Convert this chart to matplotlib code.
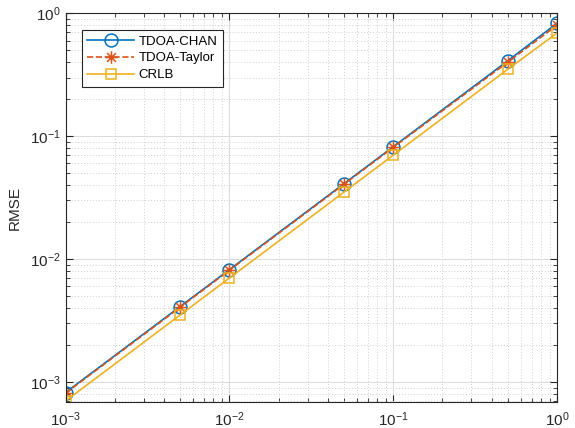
import matplotlib
matplotlib.use("Agg")
import matplotlib.pyplot as plt
from matplotlib.path import Path
from matplotlib.ticker import LogLocator, NullFormatter
import numpy as np

plt.rcParams['font.family'] = ['Liberation Sans', 'DejaVu Sans']

sigma = [0.001, 0.005, 0.01, 0.05, 0.1, 0.5, 1.0]
rmse_chan = [8.2e-4, 4.1e-3, 8.2e-3, 4.1e-2, 8.2e-2, 0.41, 0.83]
rmse_taylor = [8.1e-4, 4.05e-3, 8.1e-3, 4.05e-2, 8.1e-2, 0.40, 0.80]
rmse_crlb = [7.0e-4, 3.5e-3, 7.0e-3, 3.5e-2, 7.0e-2, 0.35, 0.69]
labels = ['TDOA-CHAN', 'TDOA-Taylor', 'CRLB']

# MATLAB-like 8-arm asterisk marker
d = np.sqrt(0.5)
verts = [(-1, 0), (1, 0), (0, -1), (0, 1), (-d, -d), (d, d), (-d, d), (d, -d)]
codes = [Path.MOVETO, Path.LINETO] * 4
asterisk = Path(verts, codes)

fig = plt.figure(figsize=(5.75, 4.28), dpi=100)
ax = fig.add_axes([65.5/575, 26/428, 491.5/575, 388.7/428])

ax.loglog(sigma, rmse_chan, '-', marker='o', color='#0072BD', lw=1.2, ms=9.3,
          mfc='none', mew=1.1, label=labels[0])
ax.loglog(sigma, rmse_taylor, '--', marker=asterisk, color='#D95319', lw=1.2,
          ms=9, mew=1.1, label=labels[1])
ax.loglog(sigma, rmse_crlb, '-', marker='s', color='#EDB120', lw=1.2, ms=7.5,
          mfc='none', mew=1.1, label=labels[2])

ax.set_xlim(1e-3, 1)
ax.set_ylim(10**(-3.163), 1)
ax.set_ylabel('RMSE', fontsize=11, color='#262626', labelpad=6)

ax.xaxis.set_major_locator(LogLocator(base=10, numticks=10))
ax.yaxis.set_major_locator(LogLocator(base=10, numticks=10))
ax.xaxis.set_minor_locator(LogLocator(base=10, subs=range(2, 10), numticks=20))
ax.yaxis.set_minor_locator(LogLocator(base=10, subs=range(2, 10), numticks=20))
ax.xaxis.set_minor_formatter(NullFormatter())
ax.yaxis.set_minor_formatter(NullFormatter())

ax.grid(True, which='major', color='#dcdcdc', lw=0.8, ls='-')
ax.grid(True, which='minor', color='#d0d0d0', lw=0.7, ls=(0, (1, 2)))
ax.set_axisbelow(True)

ax.tick_params(which='both', direction='in', top=True, right=True,
               colors='#262626', labelsize=11)
ax.tick_params(which='major', length=5)
ax.tick_params(which='minor', length=3)
ax.tick_params(axis='x', pad=6)
for s in ax.spines.values():
    s.set_color('#262626')
    s.set_linewidth(0.8)

leg = ax.legend(loc='upper left', bbox_to_anchor=(0.033, 0.957), fontsize=9.5,
                fancybox=False, edgecolor='#262626', framealpha=1,
                handlelength=3.6, borderpad=0.4, labelspacing=0.35,
                handletextpad=0.3, borderaxespad=0.0)
leg.get_frame().set_linewidth(0.8)

fig.savefig('out.png', dpi=100)
